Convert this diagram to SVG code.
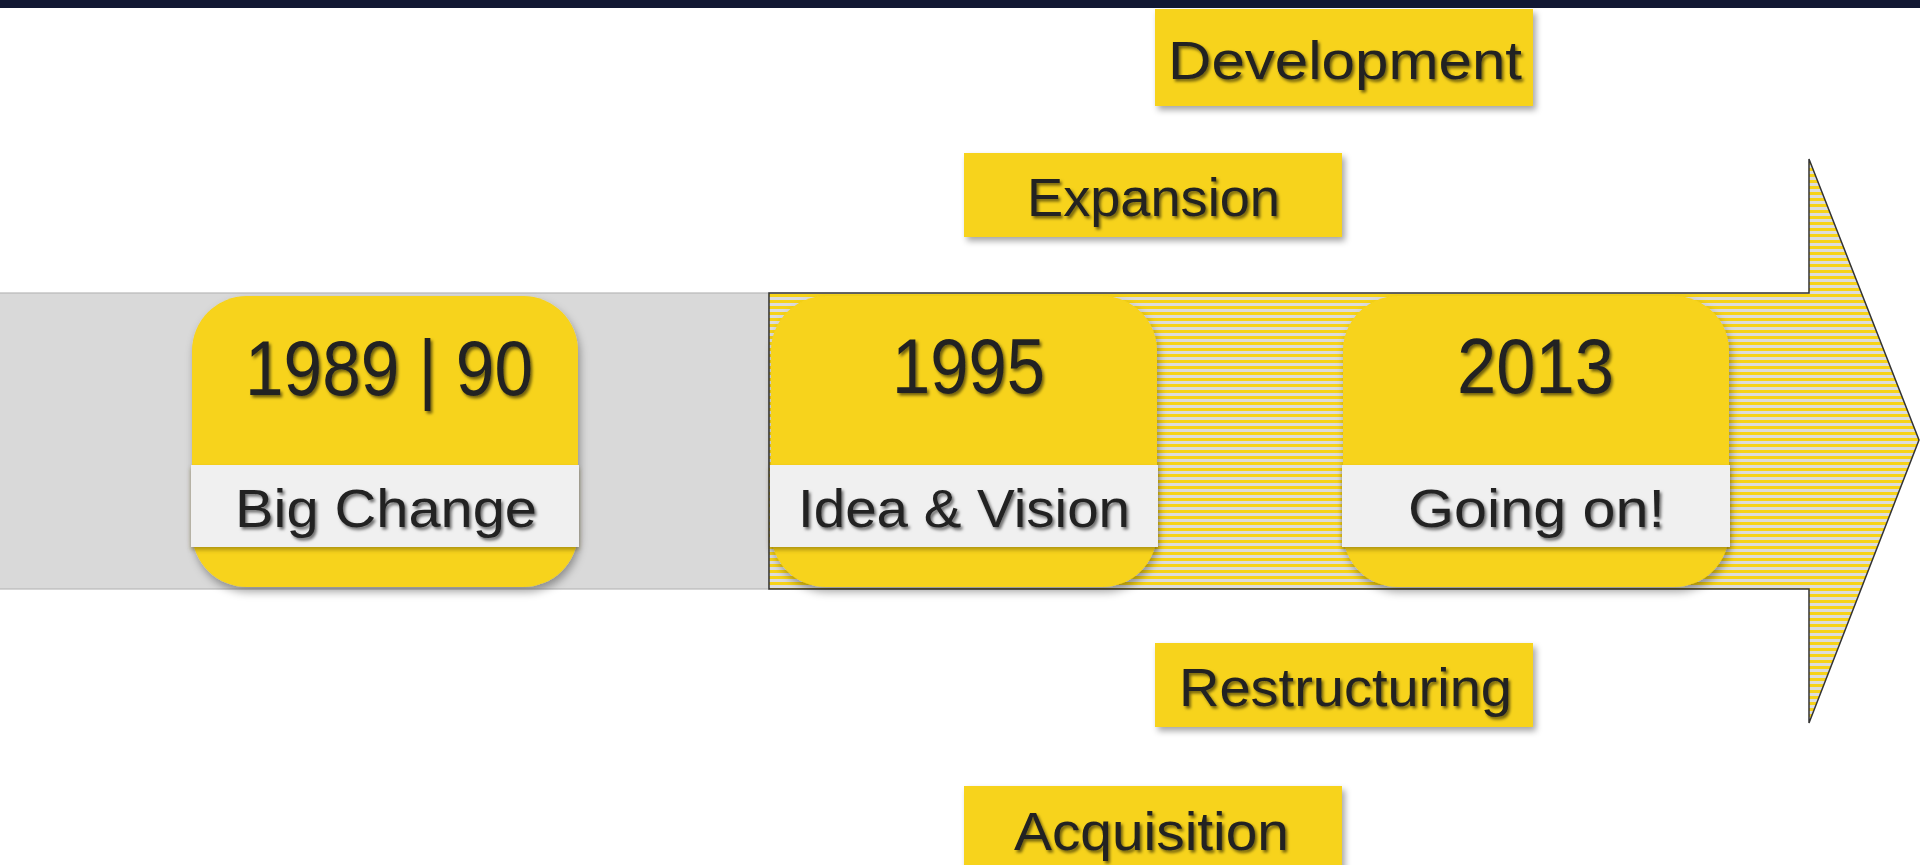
<svg xmlns="http://www.w3.org/2000/svg" width="1920" height="865" viewBox="0 0 1920 865">
<defs>
<pattern id="stripes" x="0" y="0" width="12" height="6" patternUnits="userSpaceOnUse">
<rect x="0" y="0" width="12" height="6" fill="#dcdcdc"/>
<rect x="0" y="0" width="12" height="3" fill="#f7d317"/>
</pattern>
<filter id="txtShadow" x="-5%" y="-20%" width="110%" height="140%">
<feDropShadow dx="2" dy="2.5" stdDeviation="1.5" flood-color="#000" flood-opacity="0.55"/>
</filter>
<filter id="boxShadow" x="-5%" y="-10%" width="112%" height="130%">
<feDropShadow dx="3" dy="4" stdDeviation="3" flood-color="#000" flood-opacity="0.35"/>
</filter>
<filter id="cardShadow" x="-5%" y="-10%" width="112%" height="125%">
<feDropShadow dx="2" dy="5" stdDeviation="4" flood-color="#000" flood-opacity="0.35"/>
</filter>
<filter id="bandShadow" x="-2%" y="-10%" width="104%" height="130%">
<feDropShadow dx="0" dy="3" stdDeviation="2" flood-color="#5a4a00" flood-opacity="0.45"/>
</filter>
</defs>
<style>
.t{font-family:"Liberation Sans","DejaVu Sans",sans-serif;fill:#222;filter:url(#txtShadow);}
.lbl{font-size:54px;}
.yr{font-size:78px;}
.ybox{fill:#f7d31a;filter:url(#boxShadow);}
.card{fill:#f7d31a;filter:url(#cardShadow);}
.band{fill:#f0f0f0;filter:url(#bandShadow);}
</style>
<rect x="0" y="0" width="1920" height="865" fill="#ffffff"/>
<rect x="0" y="0" width="1920" height="8" fill="#121833"/>

<g id="timeline">
<rect x="-1" y="293" width="770" height="296" fill="#d9d9d9" stroke="#b8b8b8" stroke-width="1.2"/>
<path d="M769,293 L1809,293 L1809,159 L1919,440 L1809,723 L1809,589 L769,589 Z" fill="url(#stripes)" stroke="#333" stroke-width="1.5"/>
</g>

<g id="node-development">
<rect class="ybox" x="1155" y="9" width="378" height="97"/>
<text class="t lbl" x="1168" y="79" textLength="354" lengthAdjust="spacingAndGlyphs">Development</text>
</g>
<g id="node-expansion">
<rect class="ybox" x="964" y="153" width="378" height="84"/>
<text class="t lbl" x="1027" y="216" textLength="253" lengthAdjust="spacingAndGlyphs">Expansion</text>
</g>
<g id="node-restructuring">
<rect class="ybox" x="1155" y="643" width="378" height="84"/>
<text class="t lbl" x="1179" y="706" textLength="333" lengthAdjust="spacingAndGlyphs">Restructuring</text>
</g>
<g id="node-acquisition">
<rect class="ybox" x="964" y="786" width="378" height="90"/>
<text class="t lbl" x="1014" y="850" textLength="275" lengthAdjust="spacingAndGlyphs">Acquisition</text>
</g>

<g id="node-1989">
<rect class="card" x="192" y="296" width="386" height="291" rx="55" ry="55"/>
<rect class="band" x="191" y="465" width="388" height="82"/>
<text class="t yr" x="245" y="395" textLength="288" lengthAdjust="spacingAndGlyphs">1989 | 90</text>
<text class="t lbl" x="235" y="527" textLength="302" lengthAdjust="spacingAndGlyphs">Big Change</text>
</g>
<g id="node-1995">
<rect class="card" x="771" y="296" width="386" height="291" rx="55" ry="55"/>
<rect class="band" x="770" y="465" width="388" height="82"/>
<text class="t yr" x="892" y="393" textLength="153" lengthAdjust="spacingAndGlyphs">1995</text>
<text class="t lbl" x="798" y="527" textLength="332" lengthAdjust="spacingAndGlyphs">Idea &amp; Vision</text>
</g>
<g id="node-2013">
<rect class="card" x="1343" y="296" width="386" height="291" rx="55" ry="55"/>
<rect class="band" x="1342" y="465" width="388" height="82"/>
<text class="t yr" x="1457" y="393" textLength="157" lengthAdjust="spacingAndGlyphs">2013</text>
<text class="t lbl" x="1408" y="527" textLength="257" lengthAdjust="spacingAndGlyphs">Going on!</text>
</g>
</svg>
